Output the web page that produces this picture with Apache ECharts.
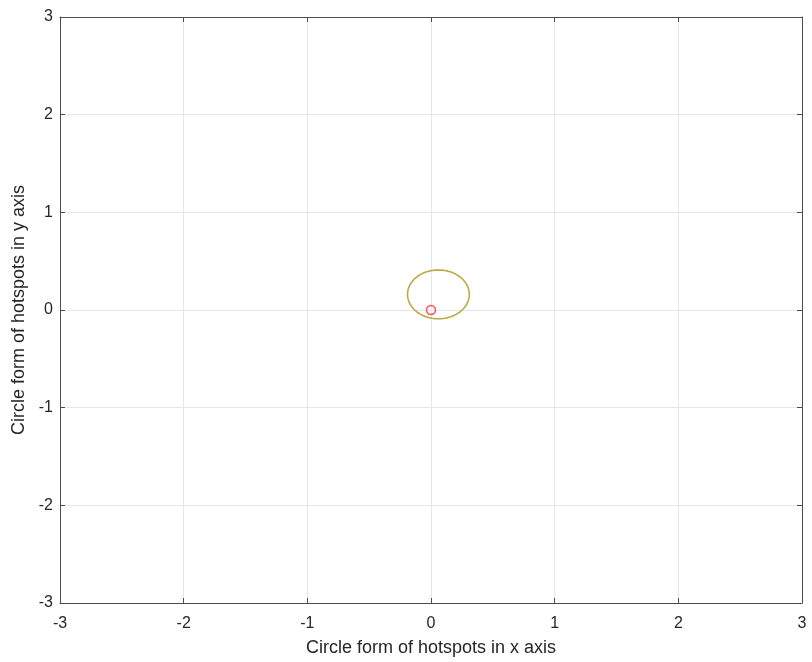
<!DOCTYPE html>
<html>
<head>
<meta charset="utf-8">
<script src="https://cdn.jsdelivr.net/npm/echarts@6/dist/echarts.min.js"></script>
<style>
  html, body { margin: 0; padding: 0; background: #fff; }
  #chart { width: 812px; height: 662px; }
</style>
</head>
<body>
<div id="chart"></div>
<script>
// Axis limits and ticks
const xTicks = [-3, -2, -1, 0, 1, 2, 3];
const yTicks = [-3, -2, -1, 0, 1, 2, 3];

// Hotspot boundary circle: centre and radius
const hotspotCenter = [0.06, 0.16];
const hotspotRadius = 0.25;
const circleSteps = 120;

// Hotspot origin marker
const originPoint = [[0, 0]];

// Boundary points traced around the circle
const circlePoints = [];
for (let i = 0; i <= circleSteps; i++) {
  const t = (2 * Math.PI * i) / circleSteps;
  circlePoints.push([
    hotspotCenter[0] + hotspotRadius * Math.cos(t),
    hotspotCenter[1] + hotspotRadius * Math.sin(t)
  ]);
}

const font = 'Liberation Sans, Arial, Helvetica, sans-serif';
const frameColor = '#4d4d4d';
const gridColor = '#e6e6e6';
const textColor = '#262626';

function valueAxis(extra) {
  return Object.assign({
    type: 'value',
    min: xTicks[0], max: xTicks[xTicks.length - 1], interval: 1,
    axisLine: { show: true, onZero: false, lineStyle: { color: frameColor, width: 1 } },
    axisTick: { show: true, inside: true, length: 5, lineStyle: { color: frameColor } },
    splitLine: { show: false },
    axisLabel: { show: false }
  }, extra);
}

const chart = echarts.init(document.getElementById('chart'));
chart.setOption({
  animation: false,
  backgroundColor: '#ffffff',
  grid: { left: 60, top: 17, right: 10, bottom: 58, containLabel: false },
  xAxis: [
    valueAxis({
      position: 'bottom',
      name: 'Circle form of hotspots in x axis',
      nameLocation: 'middle',
      nameGap: 36,
      nameTextStyle: { fontFamily: font, fontSize: 18, color: textColor },
      splitLine: { show: true, lineStyle: { color: gridColor, width: 1 } },
      axisLabel: { show: true, fontFamily: font, fontSize: 16, color: textColor, margin: 13 }
    }),
    valueAxis({ position: 'top' })
  ],
  yAxis: [
    valueAxis({
      position: 'left',
      min: yTicks[0], max: yTicks[yTicks.length - 1],
      name: 'Circle form of hotspots in y axis',
      nameLocation: 'middle',
      nameGap: 32,
      nameTextStyle: { fontFamily: font, fontSize: 18, color: textColor },
      splitLine: { show: true, lineStyle: { color: gridColor, width: 1 } },
      axisLabel: { show: true, fontFamily: font, fontSize: 16, color: textColor, margin: 7 }
    }),
    valueAxis({ position: 'right', min: yTicks[0], max: yTicks[yTicks.length - 1] })
  ],
  series: [
    {
      type: 'line',
      xAxisIndex: 0, yAxisIndex: 0,
      data: circlePoints,
      showSymbol: false,
      smooth: false,
      lineStyle: { color: '#bfa845', width: 1.6 },
      silent: true
    },
    {
      type: 'scatter',
      xAxisIndex: 0, yAxisIndex: 0,
      data: originPoint,
      symbol: 'circle',
      symbolSize: 9,
      itemStyle: { color: 'rgba(255,255,255,0)', borderColor: '#ff2a2a', borderWidth: 1.5 }
    }
  ]
});
</script>
</body>
</html>
